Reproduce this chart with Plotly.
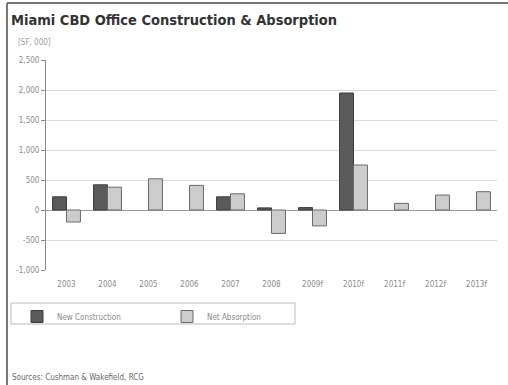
import plotly.graph_objects as go

years = ["2003", "2004", "2005", "2006", "2007", "2008", "2009f", "2010f", "2011f", "2012f", "2013f"]
new_construction = [220, 420, None, None, 220, 35, 40, 1950, None, None, None]
net_absorption = [-200, 380, 520, 410, 270, -390, -265, 750, 110, 250, 305]
y_ticks = [-1000, -500, 0, 500, 1000, 1500, 2000, 2500]
y_tick_labels = ["-1,000", "-500", "0", "500", "1,000", "1,500", "2,000", "2,500"]

FONT = "DejaVu Sans Condensed, Liberation Sans Narrow, sans-serif"

fig = go.Figure()
fig.add_trace(go.Bar(x=years, y=new_construction, name="New Construction",
                     marker=dict(color="#5a5a5a", line=dict(color="#3c3c3c", width=1))))
fig.add_trace(go.Bar(x=years, y=net_absorption, name="Net Absorption",
                     marker=dict(color="#cccccc", line=dict(color="#6a6a6a", width=1))))

fig.update_layout(
    width=508, height=385,
    margin=dict(l=46, r=11, t=60, b=115, autoexpand=False),
    paper_bgcolor="white", plot_bgcolor="white",
    barmode="group", bargap=0.32, bargroupgap=0,
    font=dict(family=FONT, size=8, color="#8a8a8a"),
    title=dict(text="<b>Miami CBD Office Construction & Absorption</b>",
               x=11/508, xanchor="left", y=1-20/385, yanchor="middle", xref="container",
               font=dict(family=FONT, size=14.5, color="#333333")),
    xaxis=dict(showgrid=False, showline=False, ticks="", automargin=False,
               ticklabelstandoff=8,
               tickfont=dict(size=8, color="#8a8a8a")),
    yaxis=dict(range=[-1000, 2500], tickvals=y_ticks, ticktext=y_tick_labels, automargin=False,
               showgrid=True, gridcolor="#dcdcdc", gridwidth=1,
               zeroline=True, zerolinecolor="#9a9a9a", zerolinewidth=1,
               showline=True, linecolor="#8a8a8a", linewidth=1,
               ticks="outside", ticklen=4, tickcolor="#8a8a8a",
               tickfont=dict(size=8, color="#8a8a8a")),
    legend=dict(orientation="h", x=(17-46)/451, xanchor="left", y=(270-302)/210, yanchor="top",
                borderwidth=0, bgcolor="rgba(0,0,0,0)",
                entrywidth=105, entrywidthmode="pixels",
                font=dict(size=8, color="#8a8a8a"), itemclick=False),
    showlegend=True,
)

# legend frame
fig.add_shape(type="rect", xref="paper", yref="paper",
              x0=(11-46)/451, x1=(295-46)/451, y0=(270-303)/210, y1=(270-324)/210,
              line=dict(color="#bbbbbb", width=1), layer="below")

fig.add_annotation(text="[SF, 000]", xref="paper", yref="paper",
                   x=(16-46)/451, xanchor="left", y=(270-42)/210, yanchor="middle",
                   showarrow=False, font=dict(size=8, color="#9a9a9a"))
fig.add_annotation(text="Sources: Cushman & Wakefield, RCG", xref="paper", yref="paper",
                   x=(10-46)/451, xanchor="left", y=(270-377)/210, yanchor="middle",
                   showarrow=False, font=dict(size=8, color="#666666"))

# frame lines (top and left)
fig.add_shape(type="line", xref="paper", yref="paper", x0=(7-46)/451, x1=(508-46)/451,
              y0=(270-3)/210, y1=(270-3)/210, line=dict(color="#777777", width=2))
fig.add_shape(type="line", xref="paper", yref="paper", x0=(7-46)/451, x1=(7-46)/451,
              y0=(270-3)/210, y1=(270-386)/210, line=dict(color="#777777", width=2))

fig.write_html("out.html", config={"displayModeBar": False},
               post_script="document.body.style.margin='0';document.body.style.padding='0';")
